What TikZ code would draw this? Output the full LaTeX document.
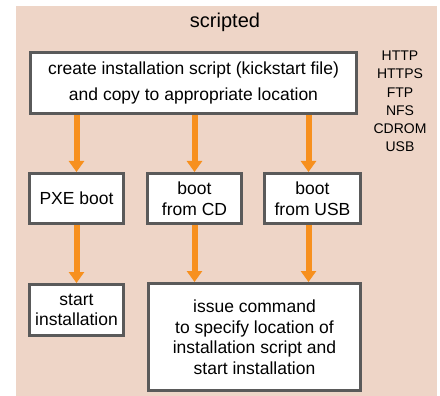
\documentclass[tikz,border=0pt]{standalone}
\usepackage{fontspec}
\setmainfont{Liberation Sans}
\usetikzlibrary{shapes.geometric, arrows.meta}
\definecolor{peach}{HTML}{EED5C7}
\definecolor{boxline}{HTML}{5A5A5A}
\definecolor{flow}{HTML}{F7901E}
\tikzstyle{stepbox} = [rectangle, minimum width=94pt, minimum height=50pt, text centered, align=center, draw=boxline, line width=3pt, fill=white, inner sep=0pt, font=\fontsize{17.5}{20.5}\selectfont]
\tikzstyle{arrow} = [line width=6pt, draw=flow, -{Triangle[width=15pt,length=11pt]}]

\begin{document}
\begin{tikzpicture}[x=1pt, y=1pt, node distance=118pt]
    \fill[peach] (16,-6) rectangle (437,-396);
    \useasboundingbox (0,0) rectangle (440,-396);

    \node (title) at (225,-22) [font=\fontsize{20}{24}\selectfont] {scripted};
    \node (create) at (193.5,-83) [stepbox, minimum width=326pt, minimum height=61pt, font=\fontsize{17.5}{26.5}\selectfont] {create installation script (kickstart file)\\and copy to appropriate location};
    \node (proto) at (400,-101.5) [align=center, inner sep=0pt, font=\fontsize{14}{18.2}\selectfont] {HTTP\\HTTPS\\FTP\\NFS\\CDROM\\USB};

    \node (pxe) at (76.5,-198.5) [stepbox] {PXE boot};
    \node (cd) [stepbox, right of=pxe] {boot\\from CD};
    \node (usb) [stepbox, right of=cd, minimum width=96pt] {boot\\from USB};
    \node (start) [stepbox, node distance=111.5pt, below of=pxe, minimum height=51pt] {start\\installation};
    \node (issue) [stepbox, node distance=138.5pt, below of=cd, xshift=60pt, minimum width=212pt, minimum height=107pt] {issue command\\to specify location of\\installation script and\\start installation};

    \draw [arrow] (pxe.north |- create.south) -- (pxe.north);
    \draw [arrow] (cd.north |- create.south) -- (cd.north);
    \draw [arrow] ([xshift=-4pt]usb.north |- create.south) -- ([xshift=-4pt]usb.north);
    \draw [arrow] (pxe.south) -- (start.north);
    \draw [arrow] (cd.south) -- (cd.south |- issue.north);
    \draw [arrow] ([xshift=-4pt]usb.south) -- ([xshift=-4pt]usb.south |- issue.north);
\end{tikzpicture}
\end{document}
